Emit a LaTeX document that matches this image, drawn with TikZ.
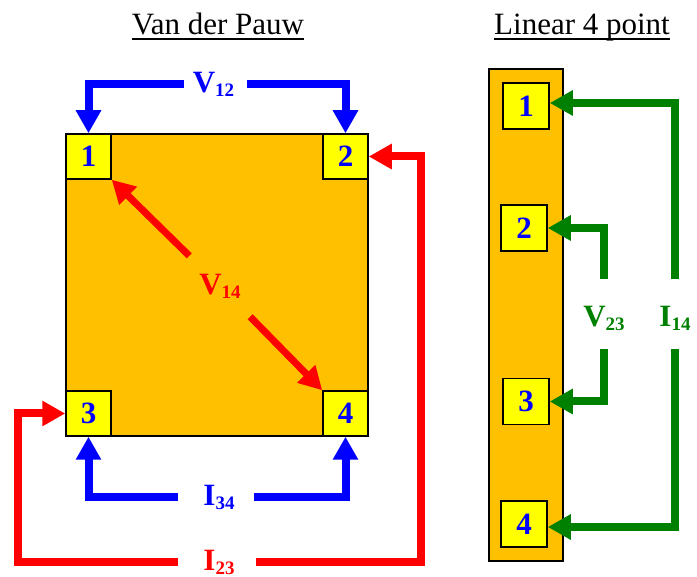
\documentclass[tikz,border=0pt]{standalone}
\usepackage{fontspec}
\setmainfont{Liberation Serif}
\usetikzlibrary{arrows.meta}
\definecolor{padyellow}{RGB}{255,255,0}
\definecolor{sampleorange}{RGB}{255,192,0}
\definecolor{probegreen}{RGB}{0,128,0}
\newcommand\ultitle[1]{\setbox0\hbox{#1}\rlap{\rule[-5pt]{\wd0}{1.5pt}}\box0}
\newcommand\sublbl[2]{#1\raisebox{-4pt}{\fontsize{19}{19}\selectfont#2}}
\begin{document}
\begin{tikzpicture}[x=1pt, y=-1pt,
  sample/.style={draw, fill=sampleorange, line width=1.2pt, inner sep=0pt},
  pad/.style={draw, fill=padyellow, line width=1.5pt, minimum size=45pt, inner sep=0pt,
              text=blue, font=\fontsize{31}{31}\selectfont\bfseries},
  title/.style={font=\fontsize{31}{31}\selectfont, anchor=base, inner sep=0pt},
  probelbl/.style={font=\fontsize{31}{31}\selectfont\bfseries, inner sep=0pt},
  probe/.style={line width=8pt, -{Triangle[width=24pt,length=23pt]}},
]
  \useasboundingbox (0,0) rectangle (697,577);
  \node[title] (vdptitle) at (218,35) {\ultitle{Van der Pauw}};
  \node[title] (lintitle) at (582,35) {\ultitle{Linear 4 point}};
  \node[sample, minimum width=302pt, minimum height=302pt] (vdpsample) at (217,285) {};
  \node[pad] (vdp1) at (88.5,156.5) {1};
  \node[pad] (vdp2) at (345.5,156.5) {2};
  \node[pad] (vdp3) at (88.5,413.5) {3};
  \node[pad] (vdp4) at (345.5,413.5) {4};
  \node[sample, minimum width=74pt, minimum height=492pt] (linsample) at (526,315) {};
  \node[pad, minimum size=46pt] (lin1) at (526,106) {1};
  \node[pad, minimum size=46pt] (lin2) at (524,228) {2};
  \node[pad, minimum size=46pt] (lin3) at (526,401.5) {3};
  \node[pad, minimum size=46pt] (lin4) at (524,524) {4};
  \node[probelbl, text=blue] (v12) at (213.5,84) {\sublbl{V}{12}};
  \node[probelbl, text=blue] (i34) at (219,497) {\sublbl{I}{34}};
  \node[probelbl, text=red] (i23) at (219,562) {\sublbl{I}{23}};
  \node[probelbl, text=red] (v14) at (220,286) {\sublbl{V}{14}};
  \node[probelbl, text=probegreen] (v23) at (604,318) {\sublbl{V}{23}};
  \node[probelbl, text=probegreen] (i14) at (675,318) {\sublbl{I}{14}};
  \draw[probe, blue, shorten <=30pt] (v12.center) -| (vdp1.north);
  \draw[probe, blue, shorten <=33pt] (v12.center) -| (vdp2.north);
  \draw[probe, blue, shorten <=41pt] (i34.center) -| (vdp3.south);
  \draw[probe, blue, shorten <=35pt] (i34.center) -| (vdp4.south);
  \draw[probe, red, shorten <=41pt] (i23.center) -| ([xshift=-47pt]vdp3.west) -- (vdp3.west);
  \draw[probe, red, shorten <=37pt] (i23.center) -| ([xshift=52pt]vdp2.east) -- (vdp2.east);
  \draw[probe, red, line width=7pt, shorten <=43pt] (v14.center) -- (vdp1.south east);
  \draw[probe, red, line width=7pt, shorten <=43pt] (v14.center) -- (vdp4.north west);
  \draw[probe, probegreen, shorten <=39pt] (v23.center) |- (lin2.east);
  \draw[probe, probegreen, shorten <=31pt] (v23.center) |- (lin3.east);
  \draw[probe, probegreen, shorten <=39pt] (i14.center) |- ([yshift=3pt]lin1.east);
  \draw[probe, probegreen, shorten <=31pt] (i14.center) |- ([yshift=-3pt]lin4.east);
\end{tikzpicture}
\end{document}
